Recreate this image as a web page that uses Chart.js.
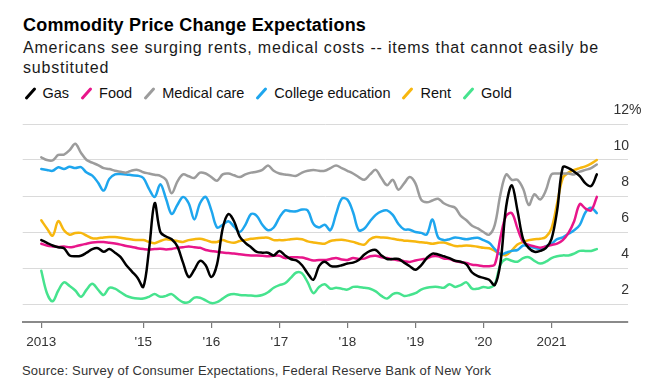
<!DOCTYPE html>
<html>
<head>
<meta charset="utf-8">
<script src="https://cdn.jsdelivr.net/npm/chart.js@4"></script>
<style>
html,body{margin:0;padding:0;background:#fff;width:667px;height:388px;overflow:hidden;font-family:"Liberation Sans",Arial,sans-serif;color:#000}
#title{position:absolute;left:23px;top:14px;font-weight:bold;font-size:18px;letter-spacing:0.2px;line-height:22px;white-space:nowrap}
#subtitle{position:absolute;left:23px;top:38px;width:640px;font-size:16px;line-height:20px;letter-spacing:0.8px;color:#1a1a1a}
#legend{position:absolute;left:24px;top:84px;height:18px;display:flex;align-items:center;font-size:14.5px;white-space:nowrap;color:#111}
.item{display:flex;align-items:center;margin-right:11.5px}
.icon{width:12px;height:12px;position:relative;margin-right:6.5px}
.icon::after{content:"";position:absolute;left:4.5px;top:-1.5px;width:3px;height:15px;border-radius:1.5px;background:var(--c);transform:rotate(42deg)}
#source{position:absolute;left:22px;top:363px;font-size:13px;line-height:16px;letter-spacing:0.2px;color:#333;white-space:nowrap}
#chartbox{position:absolute;left:0;top:100px;width:667px;height:260px}
</style>
</head>
<body>
<div id="title">Commodity Price Change Expectations</div>
<div id="subtitle">Americans see surging rents, medical costs -- items that cannot easily be substituted</div>
<div id="legend"></div>
<div id="chartbox"><canvas id="c" width="667" height="260"></canvas></div>
<div id="source">Source: Survey of Consumer Expectations, Federal Reserve Bank of New York</div>
<script>
// Monthly survey values, July 2013 (month index 6, counted from Jan 2013) through Sept 2021
const firstMonth = 6;
const tickMonths = [6, 24, 36, 48, 60, 72, 84, 96];
const tickLabels = ['2013', "'15", "'16", "'17", "'18", "'19", "'20", '2021'];
const yTickValues = [2, 4, 6, 8, 10, 12];

const seriesNames = ['Gas', 'Food', 'Medical care', 'College education', 'Rent', 'Gold'];
const seriesColors = ['#000000', '#e8168a', '#9c9c9c', '#1ea6ee', '#f7b70f', '#46e38e'];

const gas = [
  5.55,5.4,5.25,5.15,5.1,4.7,4.65,4.68,4.85,5.05,
  5.1,4.9,5.05,4.85,4.6,4.15,3.8,3.45,2.95,5.0,
  7.6,6.0,5.75,5.6,5.2,4.3,3.5,3.9,4.4,4.15,
  3.5,4.2,6.2,7.0,6.6,5.75,5.4,5.15,4.9,4.85,
  4.85,4.7,4.95,4.7,4.5,4.42,4.15,3.7,3.35,4.1,
  4.35,4.12,4.08,4.15,4.25,4.3,4.45,4.75,4.95,5.0,
  4.7,4.5,4.5,4.5,4.3,4.1,3.9,4.15,4.55,4.8,
  4.75,4.65,4.55,4.4,4.35,4.2,3.75,3.55,3.45,3.35,
  3.05,4.3,7.4,8.6,7.2,5.6,5.1,4.9,4.95,5.1,
  5.6,7.2,9.6,9.55,9.35,9.1,8.7,8.55,9.2
];
const food = [
  5.35,5.25,5.2,5.17,5.2,5.15,5.2,5.28,5.35,5.42,
  5.45,5.44,5.4,5.36,5.3,5.22,5.17,5.1,5.05,5.02,
  5.05,5.07,5.03,5.06,5.12,5.15,5.2,5.15,5.12,5.0,
  4.95,4.9,4.86,4.83,4.8,4.76,4.72,4.7,4.7,4.68,
  4.65,4.68,4.68,4.55,4.6,4.6,4.58,4.5,4.42,4.45,
  4.44,4.5,4.56,4.47,4.45,4.55,4.5,4.52,4.65,4.68,
  4.6,4.55,4.48,4.43,4.38,4.34,4.42,4.48,4.52,4.65,
  4.65,4.52,4.5,4.38,4.32,4.28,4.18,4.15,4.1,4.1,
  4.2,5.7,6.9,7.05,6.2,5.45,5.28,5.2,5.13,5.2,
  5.28,5.35,5.55,5.95,6.6,7.55,7.3,7.2,7.95
];
const medical = [
  10.15,10.0,9.98,10.28,10.3,10.55,10.9,10.4,10.0,9.85,
  9.72,9.55,9.5,9.4,9.35,9.3,9.42,9.45,9.32,9.25,
  9.18,9.12,8.9,8.15,8.8,9.2,9.1,9.0,9.3,9.25,
  9.05,8.85,9.2,9.25,9.15,9.05,9.2,9.3,9.35,9.45,
  9.7,9.4,9.25,9.2,9.15,9.12,9.3,9.4,9.45,9.4,
  9.4,9.55,9.7,9.55,9.4,9.25,9.05,8.9,9.2,9.45,
  9.0,8.6,8.9,8.35,8.7,9.05,8.7,7.8,7.65,7.75,
  7.85,7.6,7.45,7.35,6.9,6.65,6.35,6.2,6.0,5.85,
  6.4,8.1,9.2,8.9,8.9,8.4,7.5,8.1,7.8,8.3,
  9.2,9.25,9.25,9.25,9.2,9.35,9.45,9.55,9.75
];
const college = [
  9.5,9.45,9.4,9.6,9.5,9.62,9.55,9.6,9.3,9.13,
  8.75,8.3,8.95,9.2,9.22,9.2,9.15,9.13,9.0,8.4,
  7.95,8.65,7.85,7.0,7.5,7.95,7.6,6.7,7.6,7.95,
  7.2,6.25,6.4,6.6,6.3,6.0,6.4,7.0,6.9,6.4,
  6.1,6.25,6.8,7.2,7.15,7.15,7.25,7.2,6.45,6.25,
  6.4,6.1,7.0,7.85,7.8,7.1,6.1,6.2,6.6,6.95,
  7.15,7.2,6.95,6.45,6.15,6.13,6.0,5.95,5.87,6.7,
  5.7,5.55,5.6,5.7,5.65,5.6,5.65,5.68,5.55,5.4,
  5.05,4.75,4.85,4.95,5.0,5.25,5.2,5.12,5.07,5.2,
  5.35,5.6,5.7,5.9,6.1,6.4,7.1,7.35,7.05
];
const rent = [
  6.65,6.2,5.8,6.6,6.1,5.85,5.95,5.95,5.8,5.65,
  5.65,5.7,5.72,5.72,5.68,5.62,5.58,5.55,5.55,5.45,
  5.38,5.5,5.6,5.55,5.5,5.45,5.55,5.6,5.62,5.55,
  5.45,5.45,5.55,5.45,5.4,5.5,5.55,5.62,5.65,5.68,
  5.68,5.55,5.55,5.55,5.6,5.62,5.6,5.48,5.42,5.38,
  5.35,5.5,5.55,5.57,5.52,5.45,5.35,5.3,5.6,5.72,
  5.7,5.68,5.62,5.57,5.52,5.5,5.47,5.43,5.4,5.35,
  5.4,5.42,5.32,5.22,5.22,5.25,5.22,5.18,5.12,5.1,
  4.95,4.78,4.72,4.98,5.3,5.45,5.55,5.6,5.62,5.72,
  6.2,7.6,9.0,9.3,9.45,9.55,9.65,9.8,10.0
];
const gold = [
  3.85,2.6,2.15,2.75,3.2,3.0,2.75,2.4,2.8,3.12,
  2.8,2.5,2.9,2.85,2.65,2.45,2.35,2.3,2.3,2.4,
  2.55,2.4,2.45,2.55,2.3,2.1,2.1,2.35,2.35,2.2,
  2.05,2.1,2.3,2.5,2.55,2.5,2.48,2.47,2.45,2.5,
  2.65,2.9,3.05,3.15,3.45,3.75,3.7,3.2,2.6,2.95,
  3.1,2.85,2.9,2.85,2.8,2.95,2.95,2.9,2.85,2.7,
  2.45,2.3,2.55,2.6,2.45,2.5,2.6,2.8,2.9,2.95,
  2.95,2.9,3.1,2.95,3.05,3.2,2.85,2.85,2.95,2.9,
  3.1,4.2,4.5,4.4,4.35,4.55,4.6,4.4,4.25,4.35,
  4.55,4.65,4.7,4.7,4.8,4.95,4.95,4.95,5.05
];
const seriesValues = [gas, food, medical, college, rent, gold];

// HTML legend
const legendEl = document.getElementById('legend');
seriesNames.forEach((n, i) => {
  const it = document.createElement('div'); it.className = 'item';
  const ic = document.createElement('span'); ic.className = 'icon'; ic.style.setProperty('--c', seriesColors[i]);
  const tx = document.createElement('span'); tx.textContent = n;
  it.appendChild(ic); it.appendChild(tx); legendEl.appendChild(it);
});

const FONT = '"Liberation Sans", Arial, sans-serif';
Chart.defaults.font.family = FONT;

const datasets = seriesNames.map((n, i) => ({
  label: n,
  data: seriesValues[i].map((v, k) => ({x: firstMonth + k, y: v})),
  borderColor: seriesColors[i],
  backgroundColor: seriesColors[i],
  borderWidth: 2.5,
  pointRadius: 0,
  tension: 0.35,
  borderCapStyle: 'round',
  borderJoinStyle: 'round',
  fill: false
}));

new Chart(document.getElementById('c'), {
  type: 'line',
  data: {datasets},
  options: {
    responsive: false,
    animation: false,
    devicePixelRatio: 1,
    layout: {padding: {top: 24, left: 22.7, right: 0, bottom: 0}},
    plugins: {legend: {display: false}, tooltip: {enabled: false}},
    scales: {
      x: {
        type: 'linear', min: 2.72, max: 109.5,
        afterBuildTicks: s => { s.ticks = tickMonths.map(v => ({value: v})); },
        afterFit: s => { s.height = 38; },
        grid: {drawOnChartArea: false, drawTicks: true, tickLength: 6, color: '#7a7a7a', lineWidth: 1.2},
        border: {display: true, color: '#8a8a8a', width: 2},
        ticks: {autoSkip: false, maxRotation: 0, padding: 6, color: '#333', font: {size: 13.5},
          callback: (v, i) => tickLabels[i]}
      },
      y: {
        type: 'linear', position: 'right', min: 1, max: 12,
        afterBuildTicks: s => { s.ticks = yTickValues.map(v => ({value: v})); },
        afterFit: s => { s.width = 39; },
        grid: {color: '#dadada', lineWidth: 1, drawTicks: false},
        border: {display: false},
        ticks: {mirror: true, padding: 13.4, labelOffset: -14, crossAlign: 'far', color: '#333', font: {size: 14},
          callback: v => v === 12 ? '12%' : (v < 10 ? '  ' + v : String(v))}
      }
    }
  }
});
</script>
</body>
</html>
